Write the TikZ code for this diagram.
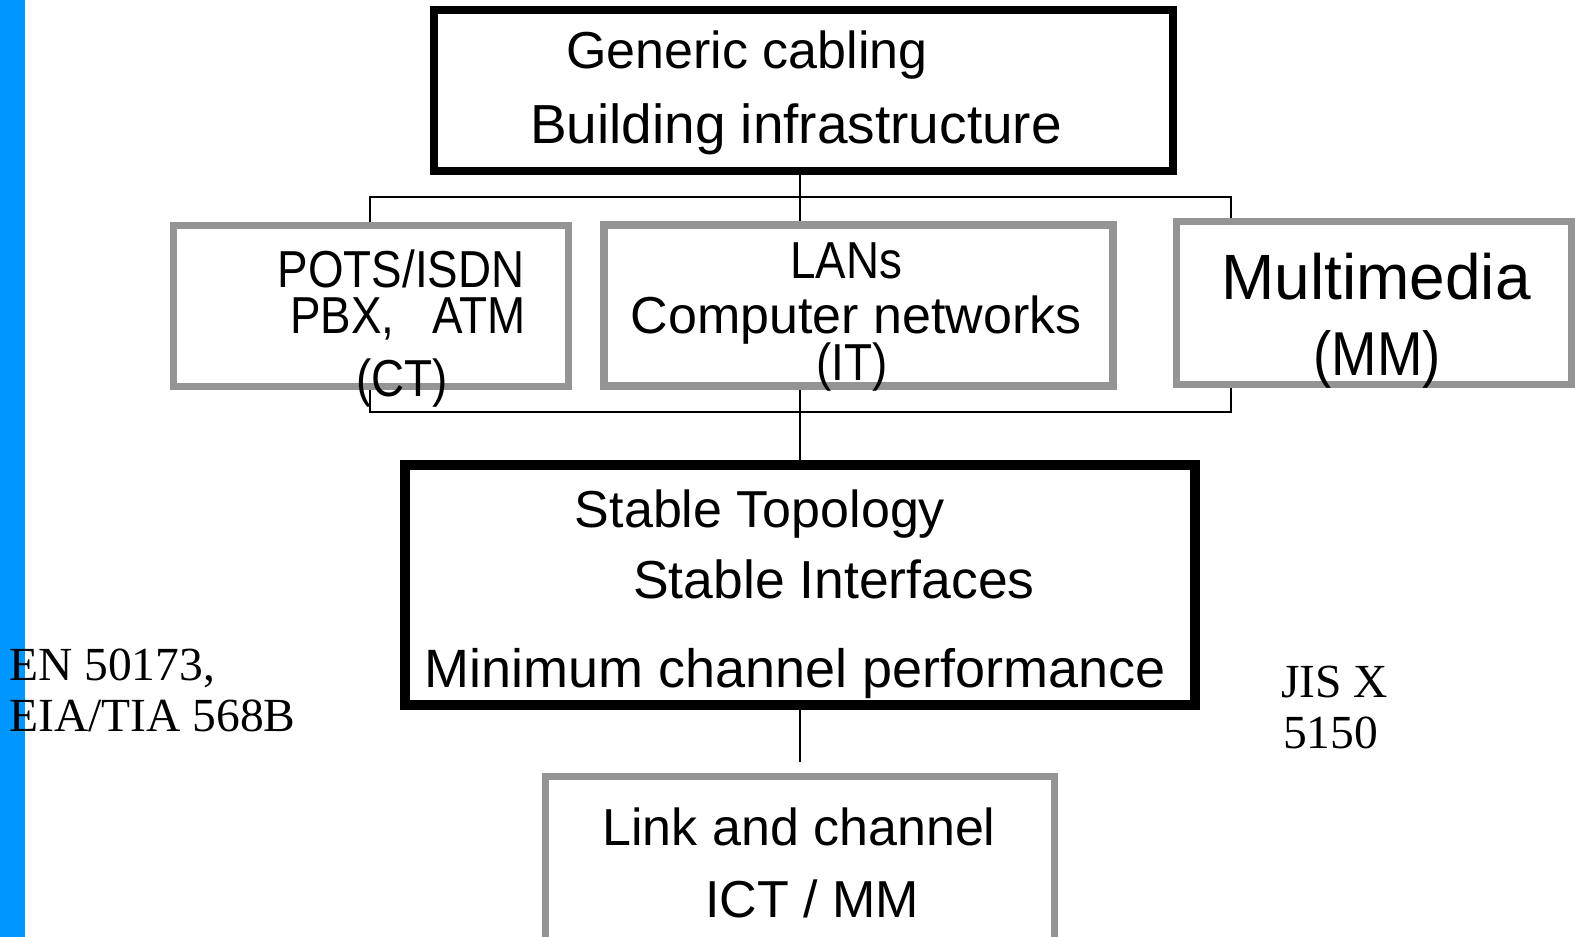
\documentclass[tikz,border=0pt]{standalone}
\usepackage{fontspec}
\setmainfont{Liberation Sans}
\newfontfamily\narrowsf[FakeStretch=0.88]{Liberation Sans}
\newfontfamily\stdrm{Liberation Serif}
\usetikzlibrary{positioning, backgrounds}
\definecolor{barblue}{RGB}{0,150,255}
\definecolor{boxgray}{RGB}{148,148,148}

\begin{document}
\begin{tikzpicture}[x=1pt, y=-1pt,
  bx/.style={draw=black, fill=white, line width=8pt, inner sep=0pt},
  gbx/.style={draw=boxgray, fill=white, line width=7pt, inner sep=0pt},
  lb/.style={inner sep=0pt, anchor=base, font=\fontsize{52}{60}\selectfont},
  lbn/.style={lb, font=\narrowsf\fontsize{52}{60}\selectfont},
  std/.style={inner sep=0pt, anchor=base west, font=\stdrm\fontsize{47.5}{55}\selectfont},
  conn/.style={line width=2pt}]
  \useasboundingbox (0,0) rectangle (1575,937);
  \clip (0,0) rectangle (1575,937);
  \fill[barblue] (0,0) rectangle (25,937);

  % boxes
  \node[bx, minimum width=739pt, minimum height=161pt] (gen) at (803.5,90.5) {};
  \node[gbx, minimum width=395pt, minimum height=161pt] (pots) at (370.5,305.5) {};
  \node[gbx, line width=8pt, minimum width=509pt, minimum height=161pt] (lan) at (858.5,305.5) {};
  \node[gbx, minimum width=395pt, minimum height=163pt] (mm) at (1373.5,302.5) {};
  \node[bx, line width=10pt, minimum width=790pt, minimum height=240pt] (stab) at (800,585) {};
  \node[gbx, minimum width=509pt, minimum height=184pt] (link) at (799.5,868) {};

  % texts
  \node[lb] (gen1) at (747,68) {Generic cabling};
  \node[lb, font=\fontsize{55}{60}\selectfont] (gen2) at (796,143) {Building infrastructure};
  \node[lbn, text depth=0pt] (pots1) at (401,287) {POTS/ISDN};
  \node[lbn, text height=37pt] (pots2) at (408,333) {PBX,\hspace{38pt}ATM};
  \node[lbn] (pots3) at (402,396) {(CT)};
  \node[lbn] (lan1) at (846,278) {LANs};
  \node[lb] (lan2) at (856,333) {Computer networks};
  \node[lbn] (lan3) at (852,380) {(IT)};
  \node[lb, font=\fontsize{64}{70}\selectfont] (mm1) at (1376,299) {Multimedia};
  \node[lbn, font=\narrowsf\fontsize{62}{70}\selectfont] (mm2) at (1377,375) {(MM)};
  \node[lb] (st1) at (760,527) {Stable Topology};
  \node[lb, font=\fontsize{53.5}{60}\selectfont] (st2) at (834,598) {Stable Interfaces};
  \node[lb, font=\fontsize{54}{60}\selectfont] (st3) at (795,687) {Minimum channel performance};
  \node[lb] (lk1) at (799,845) {Link and channel};
  \node[lb] (lk2) at (812,917) {ICT / MM};
  \node[std] (en1) at (9,680) {EN 50173,};
  \node[std] (en2) at (9,731) {EIA/TIA 568B};
  \node[std] (jis1) at (1281,697) {JIS X};
  \node[std] (jis2) at (1283,748) {5150};

  % connectors
  \coordinate (brnw) at (370,197);
  \coordinate (brse) at (1231,412);
  \begin{scope}[on background layer]
    \draw[conn] (brnw) rectangle (brse);
    \draw[conn] (stab.north |- gen.south) -- (stab.north |- lan.north);
    \draw[conn] (stab.north |- lan.south) -- (stab.north);
    \draw[conn, shorten >=11pt] (stab.south) -- (stab.south |- link.north);
  \end{scope}
\end{tikzpicture}
\end{document}
